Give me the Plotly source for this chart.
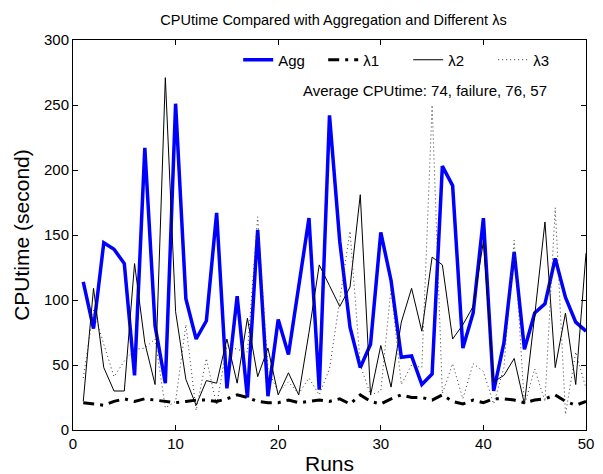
import plotly.graph_objects as go

runs = list(range(1, 51))
agg = [114, 78, 144, 139, 128, 42, 217, 80, 36, 251,
       101, 70, 84, 167, 32, 103, 25, 154, 26, 85,
       58, 110, 163, 31, 242, 145, 79, 48, 66, 152,
       115, 56, 57, 35, 43, 203, 188, 63, 90, 163,
       30, 67, 137, 62, 90, 97, 132, 102, 83, 76]
lam1 = [21, 20, 19, 22, 24, 22, 24, 23, 22, 21,
        22, 23, 23, 22, 24, 27, 25, 22, 21, 21,
        23, 21, 22, 23, 22, 24, 20, 27, 22, 20,
        24, 27, 25, 25, 23, 27, 22, 20, 23, 21,
        24, 24, 23, 21, 23, 24, 27, 22, 19, 22]
lam2 = [22, 109, 48, 30, 30, 128, 67, 35, 271, 91,
        39, 19, 38, 36, 70, 36, 86, 41, 63, 27,
        44, 27, 75, 127, 111, 95, 110, 181, 27, 65,
        33, 83, 109, 76, 133, 127, 70, 81, 95, 145,
        37, 42, 55, 20, 88, 160, 48, 90, 35, 136]
lam3 = [40, 92, 66, 41, 53, 62, 63, 70, 17, 22,
        81, 15, 55, 19, 65, 62, 60, 164, 47, 29,
        37, 28, 40, 27, 47, 100, 153, 50, 27, 30,
        109, 35, 50, 48, 250, 28, 51, 24, 51, 45,
        20, 48, 146, 19, 47, 22, 171, 12, 60, 32]

title_text = "CPUtime Compared with Aggregation and Different λs"
note_text = "Average CPUtime: 74, failure, 76, 57"
x_title = "Runs"
y_title = "CPUtime (second)"

FONT = "Liberation Sans, Arial, Helvetica, sans-serif"

fig = go.Figure()
fig.add_trace(go.Scatter(x=runs, y=agg, mode="lines", name="Agg",
                         line=dict(color="#0000FF", width=3.5)))
fig.add_trace(go.Scatter(x=runs, y=lam1, mode="lines", name="λ1",
                         line=dict(color="black", width=3, dash="11px,6px,3px,6px")))
fig.add_trace(go.Scatter(x=runs, y=lam2, mode="lines", name="λ2",
                         line=dict(color="black", width=1)))
fig.add_trace(go.Scatter(x=runs, y=lam3, mode="lines", name="λ3",
                         line=dict(color="#333333", width=1, dash="1px,3px")))

axis_common = dict(showline=True, linecolor="black", linewidth=1, mirror="allticks",
                   ticks="inside", ticklen=5, tickcolor="black", showgrid=False,
                   zeroline=False, tickfont=dict(family=FONT, size=15, color="black"))

fig.update_layout(
    width=603, height=474,
    margin=dict(l=73, r=9, t=40, b=44),
    paper_bgcolor="white", plot_bgcolor="white",
    font=dict(family=FONT, color="black"),
    title=dict(text=title_text, x=(73 + 594) / 2 / 603, xanchor="center",
               y=1 - 20 / 474, yanchor="middle", yref="container",
               font=dict(family=FONT, size=14.5, color="black")),
    xaxis=dict(range=[0, 50], tickmode="linear", tick0=0, dtick=10, **axis_common),
    yaxis=dict(range=[0, 300], tickmode="linear", tick0=0, dtick=50, **axis_common),
    legend=dict(orientation="h", x=0.322, xanchor="left", y=(430 - 60) / 390, yanchor="middle",
                bgcolor="rgba(0,0,0,0)", borderwidth=0,
                font=dict(family=FONT, size=15, color="black"),
                entrywidth=40, entrywidthmode="pixels", tracegroupgap=0),
    showlegend=True,
    annotations=[
        dict(text=note_text, x=(430 - 73) / 521, y=(430 - 90) / 390, xref="paper", yref="paper",
             xanchor="center", yanchor="middle", showarrow=False,
             font=dict(family=FONT, size=15, color="black")),
        dict(text=x_title, x=0.5, y=(430 - 464) / 390, xref="paper", yref="paper",
             xanchor="center", yanchor="middle", showarrow=False,
             font=dict(family=FONT, size=21, color="black")),
        dict(text=y_title, x=(20 - 73) / 521, y=0.5, xref="paper", yref="paper",
             xanchor="center", yanchor="middle", showarrow=False, textangle=-90,
             font=dict(family=FONT, size=21, color="black")),
    ],
)

fig.write_html("out.html")
